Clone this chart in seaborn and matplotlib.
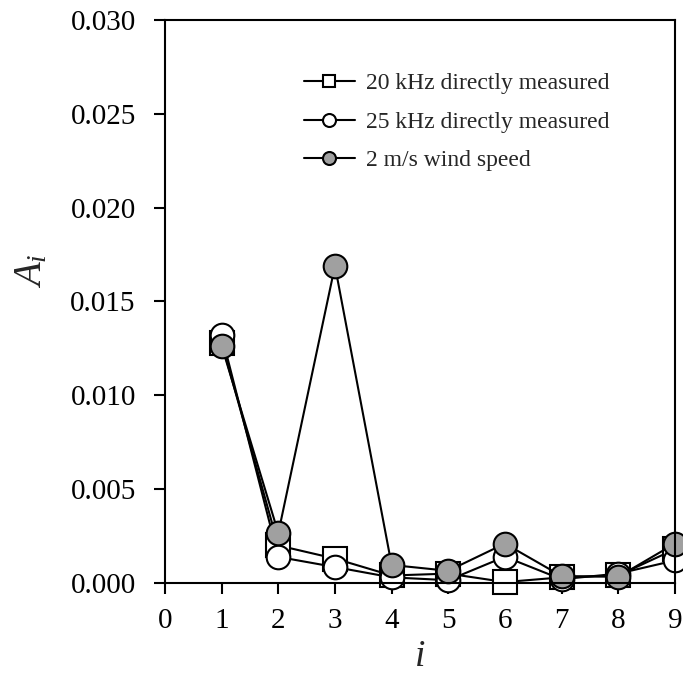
import matplotlib
matplotlib.use("Agg")
import matplotlib.pyplot as plt
import seaborn as sns
import pandas as pd

sns.set_style("ticks")
plt.rcParams['font.family'] = ['Liberation Serif', 'DejaVu Serif']
plt.rcParams['mathtext.fontset'] = 'custom'
plt.rcParams['mathtext.it'] = 'Liberation Serif:italic'
plt.rcParams['mathtext.rm'] = 'Liberation Serif'

i_vals = [1, 2, 3, 4, 5, 6, 7, 8, 9]
a_20khz = [0.0128, 0.0020, 0.0013, 0.0004, 0.0005, 0.00005, 0.0003, 0.0004, 0.0018]
a_25khz = [0.0132, 0.00139, 0.00085, 0.0003, 0.00015, 0.0014, 0.0002, 0.0005, 0.0012]
a_wind = [0.01263, 0.00266, 0.0169, 0.00096, 0.00065, 0.0021, 0.00037, 0.00033, 0.0021]
labels = ["20 kHz directly measured", "25 kHz directly measured", "2 m/s wind speed"]
x_ticks = [0, 1, 2, 3, 4, 5, 6, 7, 8, 9]
y_ticks = [0.0, 0.005, 0.010, 0.015, 0.020, 0.025, 0.030]
y_tick_labels = ["0.000", "0.005", "0.010", "0.015", "0.020", "0.025", "0.030"]

df = pd.DataFrame({"i": i_vals, "s20": a_20khz, "s25": a_25khz, "wind": a_wind})

fig = plt.figure(figsize=(6.83, 6.75), dpi=100)
ax = fig.add_axes([0.2416, 0.1363, 0.7465, 0.8341])

styles = [
    ("s20", labels[0], "s", "white"),
    ("s25", labels[1], "o", "white"),
    ("wind", labels[2], "o", "#a0a0a0"),
]
for col, lab, mk, fc in styles:
    sns.lineplot(data=df, x="i", y=col, ax=ax, color="black", linewidth=1.5,
                 marker=mk, markersize=17, markerfacecolor=fc,
                 markeredgecolor="black", markeredgewidth=1.5, label=lab,
                 clip_on=False)

ax.set_xlim(0, 9)
ax.set_ylim(0, 0.030)
ax.set_xticks(x_ticks)
ax.set_yticks(y_ticks)
ax.set_yticklabels(y_tick_labels)
ax.tick_params(axis="both", direction="out", length=8, width=1.5, labelsize=21, colors="black")
ax.tick_params(axis="y", pad=13)
ax.tick_params(axis="x", pad=10)
for s in ["left", "bottom", "top", "right"]:
    ax.spines[s].set_visible(True)
    ax.spines[s].set_linewidth(1.5)
    ax.spines[s].set_color("black")

ax.set_xlabel("i", fontsize=27, fontstyle="italic")
ax.set_ylabel("$A_i$", fontsize=28)
ax.xaxis.set_label_coords(0.5, -0.1)
ax.yaxis.set_label_coords(-0.2246, 0.554)

leg = ax.legend(loc="upper left", bbox_to_anchor=(0.23, 0.944), frameon=False,
                fontsize=17, markerscale=0.55, handlelength=2.16, labelspacing=0.72,
                handletextpad=0.5)

fig.savefig("out.png", dpi=100)
